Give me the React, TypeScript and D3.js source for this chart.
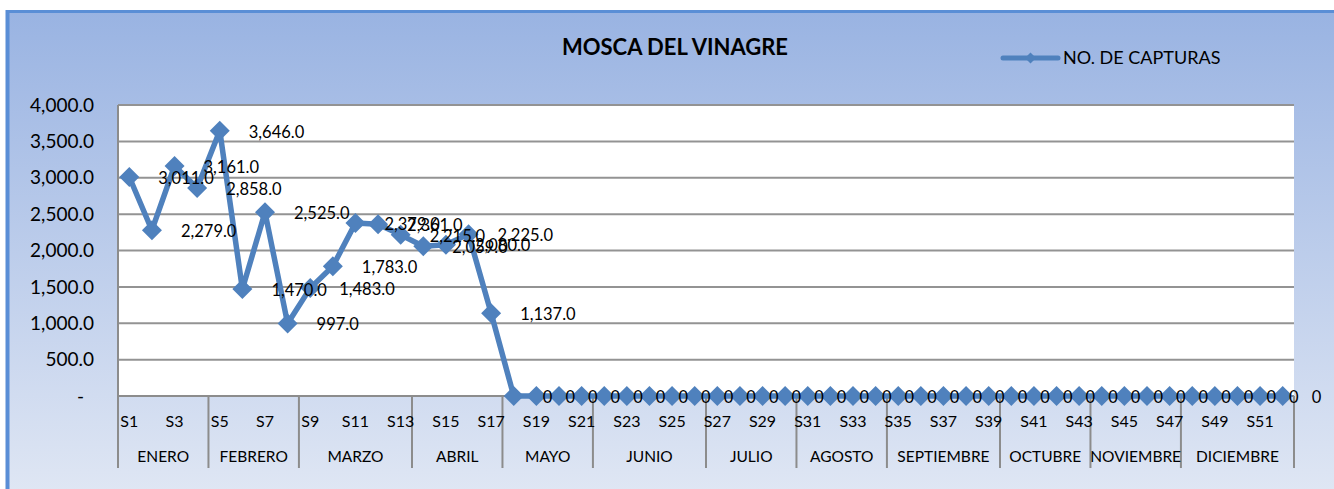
import React, { useEffect, useRef } from 'react';
import * as d3 from 'd3';

const months = ['ENERO', 'FEBRERO', 'MARZO', 'ABRIL', 'MAYO', 'JUNIO', 'JULIO', 'AGOSTO', 'SEPTIEMBRE', 'OCTUBRE', 'NOVIEMBRE', 'DICIEMBRE'];
const monthWeeks = [4, 4, 5, 4, 4, 5, 4, 4, 5, 4, 4, 5];
const weeks = d3.range(1, 53).map(i => `S${i}`);
// S1..S17 with catches, S18..S52 zero
const capturas = [
  3011, 2279, 3161, 2858, 3646, 1470, 2525, 997, 1483, 1783, 2379, 2361, 2215, 2059, 2080, 2225, 1137,
  0, 0, 0, 0, 0,
  0, 0, 0, 0, 0,
  0, 0, 0, 0, 0,
  0, 0, 0, 0, 0,
  0, 0, 0, 0, 0,
  0, 0, 0, 0, 0,
  0, 0, 0, 0, 0,
];
const yTicks = [0, 500, 1000, 1500, 2000, 2500, 3000, 3500, 4000];
const seriesName = 'NO. DE CAPTURAS';
const title = 'MOSCA DEL VINAGRE';

const FONT = "Lato, 'Open Sans', sans-serif";
const BLUE = '#4f81bd';

const App = () => {
  const svgRef = useRef<SVGSVGElement>(null);

  useEffect(() => {
    const svg = d3.select(svgRef.current);
    svg.selectAll('*').remove();

    const width = 1334;
    const height = 489;
    const plot = { left: 118, right: 1294, top: 105, bottom: 396 };
    const axisBottom = 468;

    const defs = svg.append('defs');
    const grad = defs.append('linearGradient')
      .attr('id', 'bg').attr('x1', 0).attr('y1', 0).attr('x2', 0).attr('y2', 1);
    grad.append('stop').attr('offset', '0%').attr('stop-color', '#99b3e2');
    grad.append('stop').attr('offset', '100%').attr('stop-color', '#e0e7f4');

    // chart area
    svg.append('rect').attr('width', width).attr('height', height).attr('fill', '#fff');
    svg.append('rect').attr('x', 6).attr('y', 10).attr('width', width).attr('height', height)
      .attr('fill', 'url(#bg)');
    svg.append('line').attr('x1', 7.5).attr('x2', 7.5).attr('y1', 10).attr('y2', height)
      .attr('stroke', '#5a8ed6').attr('stroke-width', 4);
    svg.append('line').attr('x1', 6).attr('x2', width).attr('y1', 11.5).attr('y2', 11.5)
      .attr('stroke', '#5a8ed6').attr('stroke-width', 3);

    const x = d3.scaleBand().domain(weeks).range([plot.left, plot.right]).padding(0);
    const y = d3.scaleLinear().domain([0, 4000]).range([plot.bottom, plot.top]);
    const cx = (i: number) => (x(weeks[i]) as number) + x.bandwidth() / 2;

    svg.append('rect')
      .attr('x', plot.left).attr('y', plot.top)
      .attr('width', plot.right - plot.left).attr('height', plot.bottom - plot.top)
      .attr('fill', '#fff');

    // gridlines
    svg.append('g').selectAll('line')
      .data(yTicks.filter(d => d > 0))
      .enter().append('line')
      .attr('x1', plot.left).attr('x2', plot.right)
      .attr('y1', d => y(d)).attr('y2', d => y(d))
      .attr('stroke', '#939393').attr('stroke-width', 2);

    // y labels
    svg.append('g').selectAll('text')
      .data(yTicks)
      .enter().append('text')
      .attr('x', d => (d === 0 ? 84 : 94))
      .attr('y', d => y(d))
      .attr('dy', '0.35em')
      .attr('text-anchor', 'end')
      .style('font-family', FONT).style('font-size', '19px').attr('fill', '#000')
      .text(d => (d === 0 ? '-' : d3.format(',.1f')(d)));

    // category axis
    const bounds = [0, ...d3.cumsum(monthWeeks)];
    const axis = svg.append('g').attr('stroke', '#8c8c8c').attr('stroke-width', 2);
    axis.append('line').attr('x1', plot.left).attr('x2', plot.left)
      .attr('y1', plot.top).attr('y2', axisBottom);
    axis.append('line').attr('x1', plot.left).attr('x2', plot.right)
      .attr('y1', plot.bottom).attr('y2', plot.bottom);
    axis.selectAll('.sep')
      .data(bounds.slice(1))
      .enter().append('line')
      .attr('x1', d => plot.left + d * x.bandwidth()).attr('x2', d => plot.left + d * x.bandwidth())
      .attr('y1', plot.bottom).attr('y2', axisBottom);

    svg.append('g').selectAll('text')
      .data(weeks.filter((_, i) => i % 2 === 0))
      .enter().append('text')
      .attr('x', d => (x(d) as number) + x.bandwidth() / 2)
      .attr('y', 421)
      .attr('dy', '0.35em')
      .attr('text-anchor', 'middle')
      .style('font-family', FONT).style('font-size', '16px')
      .text(d => d);

    svg.append('g').selectAll('text')
      .data(months)
      .enter().append('text')
      .attr('x', (_, i) => plot.left + ((bounds[i] + bounds[i + 1]) / 2) * x.bandwidth())
      .attr('y', 457)
      .attr('dy', '0.35em')
      .attr('text-anchor', 'middle')
      .style('font-family', FONT).style('font-size', '15.5px')
      .text(d => d);

    // series
    const line = d3.line<number>().x((_, i) => cx(i)).y(d => y(d));
    svg.append('path')
      .datum(capturas)
      .attr('d', line)
      .attr('fill', 'none')
      .attr('stroke', BLUE)
      .attr('stroke-width', 5.5)
      .attr('stroke-linejoin', 'round');

    const diamond = d3.symbol().type(d3.symbolSquare).size(200);
    svg.append('g').selectAll('path')
      .data(capturas)
      .enter().append('path')
      .attr('d', diamond)
      .attr('transform', (d, i) => `translate(${cx(i)},${y(d)}) rotate(45)`)
      .attr('fill', BLUE);

    svg.append('g').selectAll('text')
      .data(capturas)
      .enter().append('text')
      .attr('x', (_, i) => cx(i) + 29)
      .attr('y', d => y(d) + 1)
      .attr('dy', '0.35em')
      .style('font-family', FONT).style('font-size', '16.5px')
      .text(d => (d === 0 ? '0' : d3.format(',.1f')(d)));

    // title
    svg.append('text')
      .attr('x', 675).attr('y', 47).attr('dy', '0.35em')
      .attr('text-anchor', 'middle')
      .style('font-family', FONT).style('font-size', '22px').style('font-weight', 'bold')
      .text(title);

    // legend
    const lg = svg.append('g').attr('transform', 'translate(1003,58)');
    lg.append('line').attr('x1', 0).attr('x2', 55).attr('y1', 0).attr('y2', 0)
      .attr('stroke', BLUE).attr('stroke-width', 5).attr('stroke-linecap', 'round');
    lg.append('path').attr('d', d3.symbol().type(d3.symbolSquare).size(60))
      .attr('transform', 'translate(27.5,0) rotate(45)').attr('fill', BLUE);
    lg.append('text').attr('x', 60).attr('y', 0).attr('dy', '0.35em')
      .style('font-family', FONT).style('font-size', '18px')
      .text(seriesName);
  }, []);

  return (
    <svg ref={svgRef} width={1334} height={489}
      style={{ position: 'absolute', left: 0, top: 0, display: 'block' }} />
  );
};

export default App;
